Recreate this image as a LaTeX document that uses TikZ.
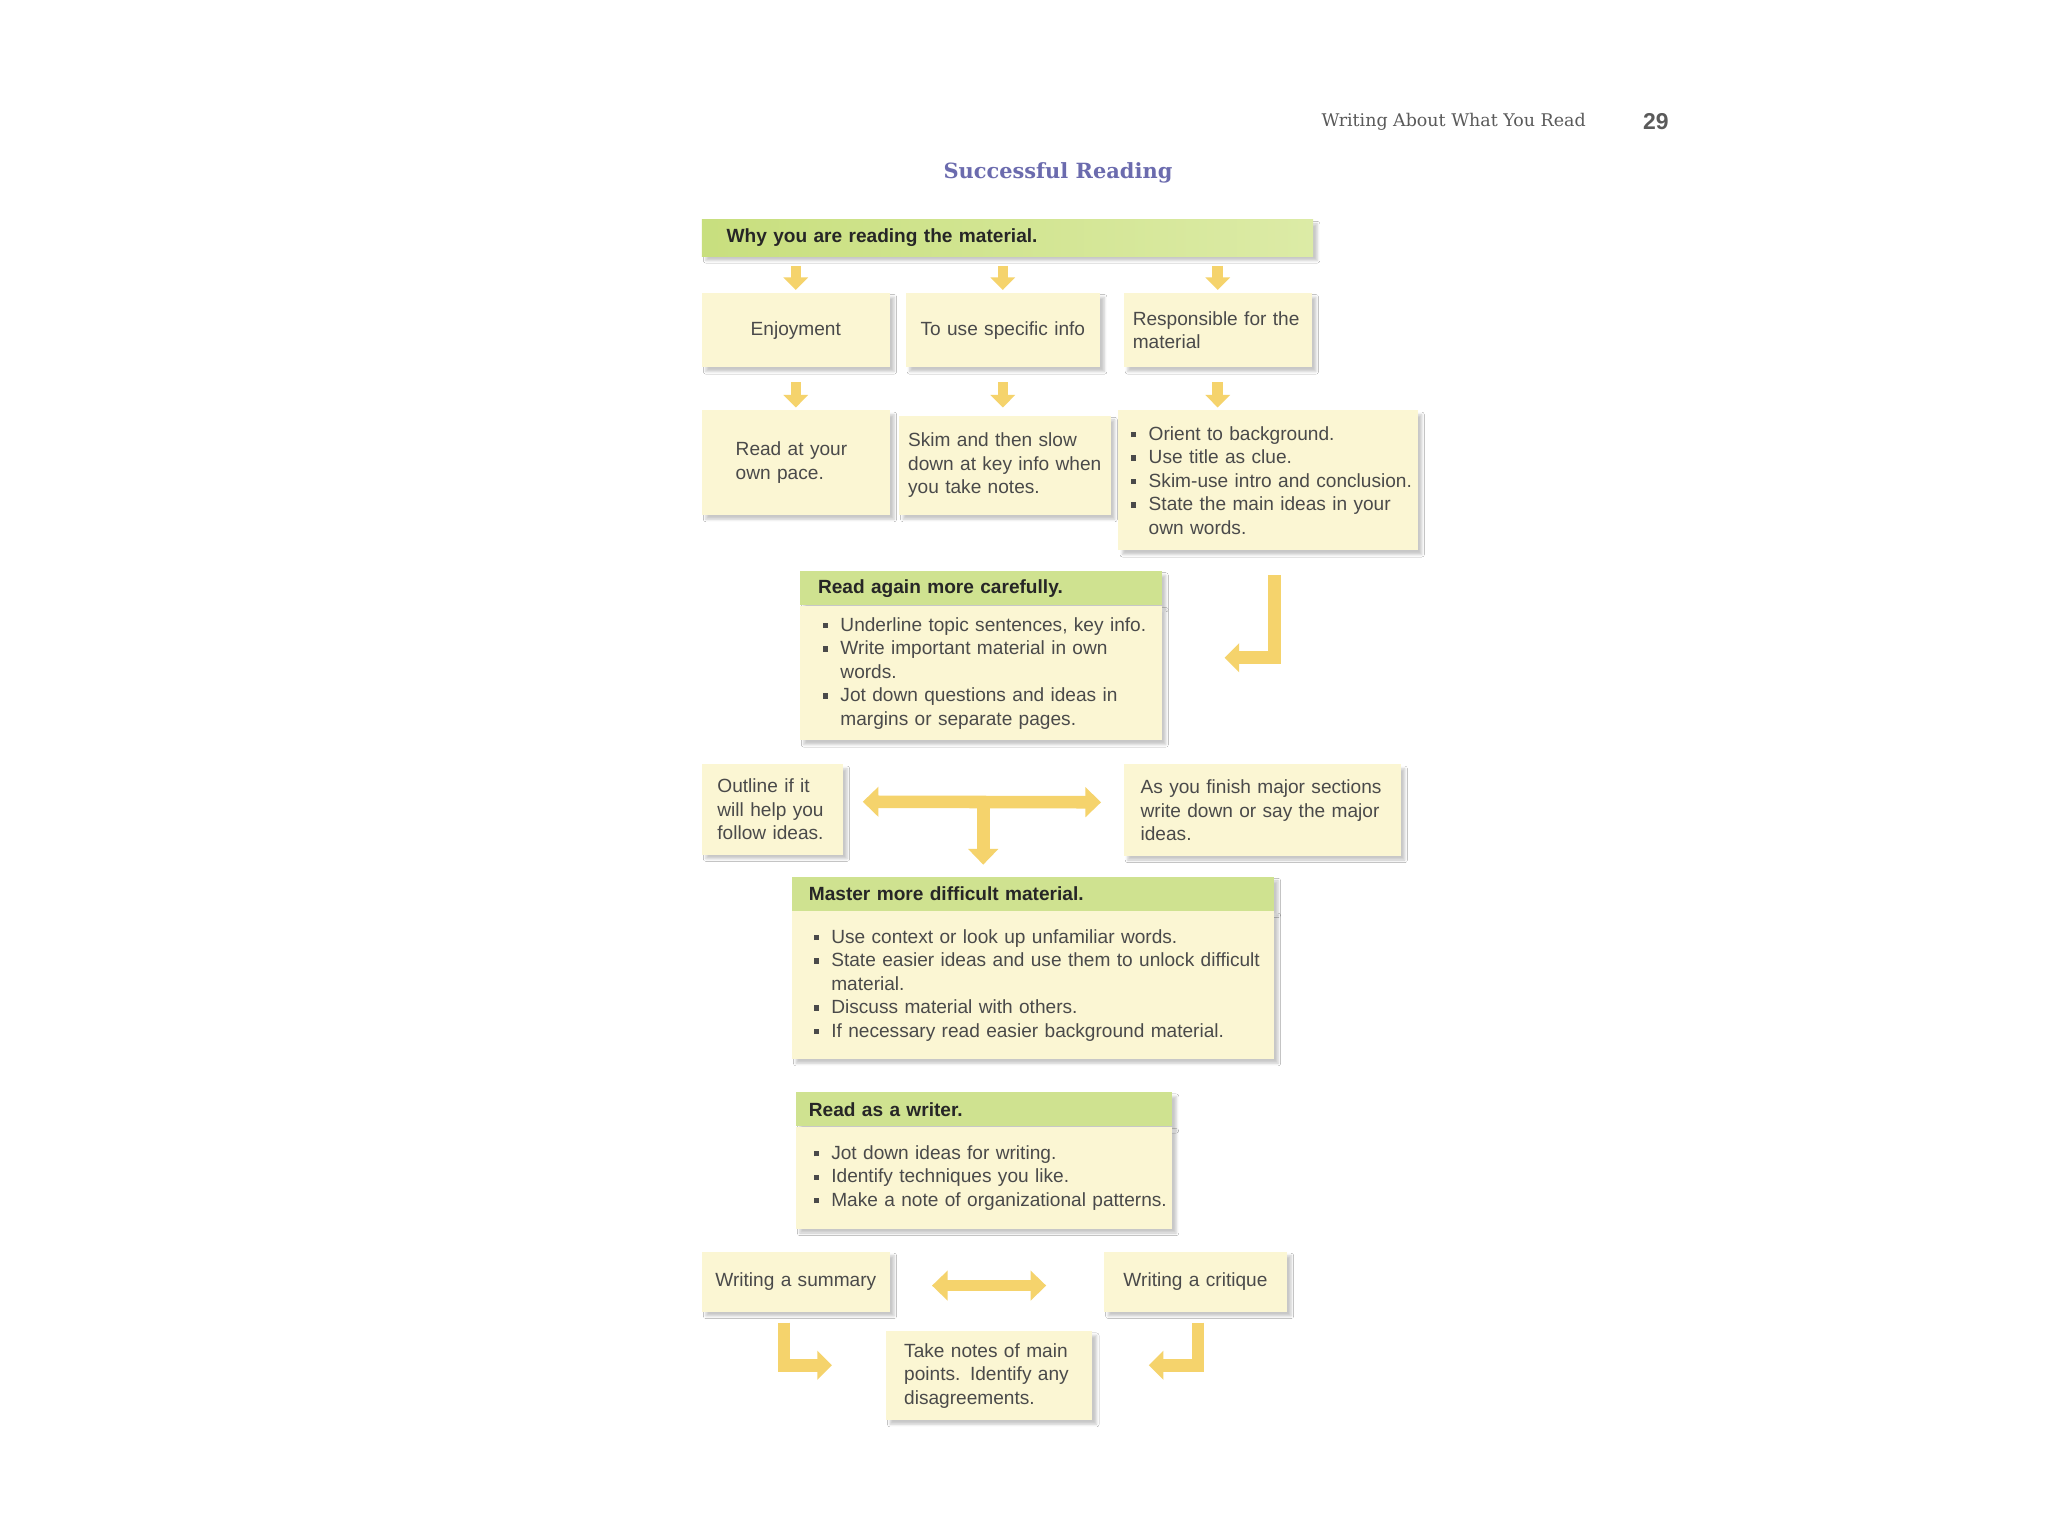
\documentclass[tikz,border=0pt]{standalone}
\usepackage{fontspec}
\setmainfont{Liberation Sans}
\newfontfamily\slabfont{DejaVu Serif}
\usetikzlibrary{
    arrows.meta,
    calc,
    shadows.blur
}
\definecolor{cardfill}{HTML}{FBF6D3}
\definecolor{headfill}{HTML}{CFE290}
\definecolor{barleft}{HTML}{C8DF7E}
\definecolor{barright}{HTML}{DCEBA6}
\definecolor{arrowfill}{HTML}{F5D36C}
\definecolor{bodytext}{HTML}{4A4A4A}
\definecolor{headtext}{HTML}{262626}
\definecolor{titleblue}{HTML}{6B6BAE}
\definecolor{runhead}{HTML}{5A5A5A}
\newcommand{\sqbullet}{\textcolor{bodytext}{\rule[0.3ex]{0.9mm}{1mm}}}
\newcommand{\bitem}[1]{\mbox{\makebox[3.3mm][l]{\sqbullet}#1}}
\newcommand{\bcont}[1]{\mbox{\hspace*{3.3mm}#1}}
\tikzset{
    card/.style={anchor=north west, fill=cardfill, inner ysep=0pt, align=left,
        text=bodytext, font=\fontsize{10.4}{12.8}\selectfont,
        blur shadow={shadow xshift=0.8mm, shadow yshift=-0.8mm,
            shadow blur radius=0.5mm, shadow opacity=22}},
    headbar/.style={card, fill=headfill, text=headtext,
        font=\fontsize{10.4}{12.8}\selectfont\bfseries},
    flow/.style={draw=arrowfill, line width=2mm,
        -{Triangle[width=4.6mm, length=2.4mm]}},
    flowboth/.style={draw=arrowfill, line width=2.4mm,
        {Triangle[width=5.6mm, length=3mm]}-{Triangle[width=5.6mm, length=3mm]}},
    bentflow/.style={flow, line width=2.4mm,
        -{Triangle[width=5.4mm, length=2.8mm]}}
}

\begin{document}
\begin{tikzpicture}[x=0.25mm, y=-0.25mm]
    \path[use as bounding box, fill=white] (0,0) rectangle (1568,1176);
    % page head and title
    \node[font=\slabfont\fontsize{9.5}{11}\selectfont, text=runhead, anchor=east] (runhead) at (1219,93) {Writing About What You Read};
    \node[font=\bfseries\fontsize{12.5}{14}\selectfont, text=runhead, anchor=west] (pagenum) at (1253,93) {29};
    \node[font=\slabfont\bfseries\fontsize{11.4}{14}\selectfont, text=titleblue] (title) at (810,132) {Successful Reading};

    % why you read
    \node[headbar, left color=barleft, right color=barright, minimum width=117mm, minimum height=7mm,
        inner xsep=4.75mm, text width=107.5mm] (why) at (537,168) {Why you are reading the material.};
    \node[card, align=center, minimum width=36mm, minimum height=14.25mm, inner xsep=2mm, text width=32mm]
        (enjoy) at (537,224) {Enjoyment};
    \node[card, align=center, minimum width=37.25mm, minimum height=14.25mm, inner xsep=1.5mm, text width=34.25mm]
        (touse) at (693,224) {To use specific info};
    \node[card, minimum width=36mm, minimum height=14.25mm, inner xsep=1.75mm, text width=32.5mm]
        (resp) at (860,224) {Responsible for the\\material};

    \node[card, minimum width=36mm, minimum height=20mm, inner xsep=6.5mm, text width=23mm]
        (pace) at (537,314) {Read at your\\own pace.};
    \node[card, minimum width=40.5mm, minimum height=19mm, inner xsep=1.75mm, text width=37mm]
        (skim) at (688,318) {Skim and then slow\\down at key info when\\you take notes.};
    \node[card, minimum width=57.25mm, minimum height=26.75mm, inner xsep=2.5mm, text width=52.25mm]
        (orient) at (856,314) {\bitem{Orient to background.}\\\bitem{Use title as clue.}\\
        \bitem{Skim-use intro and conclusion.}\\\bitem{State the main ideas in your}\\\bcont{own words.}};

    \foreach \n in {enjoy,touse,resp}
        \draw[flow, shorten <=1.75mm, shorten >=0.5mm] (\n.north |- why.south) -- (\n.north);
    \foreach \a/\b in {enjoy/pace,touse/pace,resp/orient}
        \draw[flow, shorten <=2.75mm, shorten >=0.5mm] (\a.south) -- (\a.south |- \b.north);

    % read again
    \node[headbar, minimum width=69.25mm, minimum height=6.5mm, inner xsep=3.5mm, text width=62.25mm]
        (againhd) at (612,437) {Read again more carefully.};
    \node[card, minimum width=69.25mm, minimum height=25.75mm, inner xsep=4.5mm, text width=60.25mm]
        (again) at (againhd.south west) {\bitem{Underline topic sentences, key info.}\\
        \bitem{Write important material in own}\\\bcont{words.}\\
        \bitem{Jot down questions and ideas in}\\\bcont{margins or separate pages.}};
    \draw[bentflow] ($(orient.south)+(5,19)$) |- ($(again.north east)+(48,40)$);

    \node[card, minimum width=27mm, minimum height=17.25mm, inner xsep=3mm, text width=21mm]
        (outline) at (537,585) {Outline if it\\will help you\\follow ideas.};
    \node[card, minimum width=53mm, minimum height=17.5mm, inner xsep=3.25mm, text width=46.5mm]
        (finish) at (860,585) {As you finish major sections\\write down or say the major\\ideas.};

    % master
    \node[headbar, minimum width=92.25mm, minimum height=6.5mm, inner xsep=3.25mm, text width=85.75mm]
        (masterhd) at (606,671) {Master more difficult material.};
    \node[card, minimum width=92.25mm, minimum height=28.25mm, inner xsep=4.25mm, text width=83.75mm]
        (master) at (masterhd.south west) {\bitem{Use context or look up unfamiliar words.}\\
        \bitem{State easier ideas and use them to unlock difficult}\\\bcont{material.}\\
        \bitem{Discuss material with others.}\\\bitem{If necessary read easier background material.}};

    \coordinate (fork) at ($(outline.east)!0.5!(finish.west)+(0,-6)$);
    \draw[flowboth, shorten <=3.75mm, shorten >=4.25mm] ([yshift=1.5mm]outline.east) -- ([yshift=1.5mm]finish.west);
    \draw[flow, line width=2.4mm, -{Triangle[width=5.6mm, length=3mm]}, shorten >=2.25mm] (fork) -- (fork |- masterhd.north);

    % read as a writer
    \node[headbar, minimum width=72mm, minimum height=6.5mm, inner xsep=2.5mm, text width=67mm]
        (writerhd) at (609,836) {Read as a writer.};
    \node[card, minimum width=72mm, minimum height=19.5mm, inner xsep=3.5mm, text width=65mm]
        (writer) at (writerhd.south west) {\bitem{Jot down ideas for writing.}\\
        \bitem{Identify techniques you like.}\\\bitem{Make a note of organizational patterns.}};

    \node[card, align=center, minimum width=36mm, minimum height=11.5mm, inner xsep=1.5mm, text width=33mm]
        (summary) at (537,958) {Writing a summary};
    \node[card, align=center, minimum width=35mm, minimum height=11.5mm, inner xsep=1.5mm, text width=32mm]
        (critique) at (845,958) {Writing a critique};
    \node[card, minimum width=39.5mm, minimum height=17mm, inner xsep=3.5mm, text width=32.5mm]
        (notes) at (678,1019) {Take notes of main\\points. Identify any\\disagreements.};

    \draw[flowboth, line width=2.2mm, shorten <=8mm, shorten >=11mm] ([yshift=-0.75mm]summary.east) -- ([yshift=-0.75mm]critique.west);
    \draw[bentflow] ($(summary.south)+(-9,8)$) |- ($(notes.west)+(-41,-8)$);
    \draw[bentflow] ($(critique.south)+(2,8)$) |- ($(notes.east)+(43,-8)$);
\end{tikzpicture}
\end{document}
